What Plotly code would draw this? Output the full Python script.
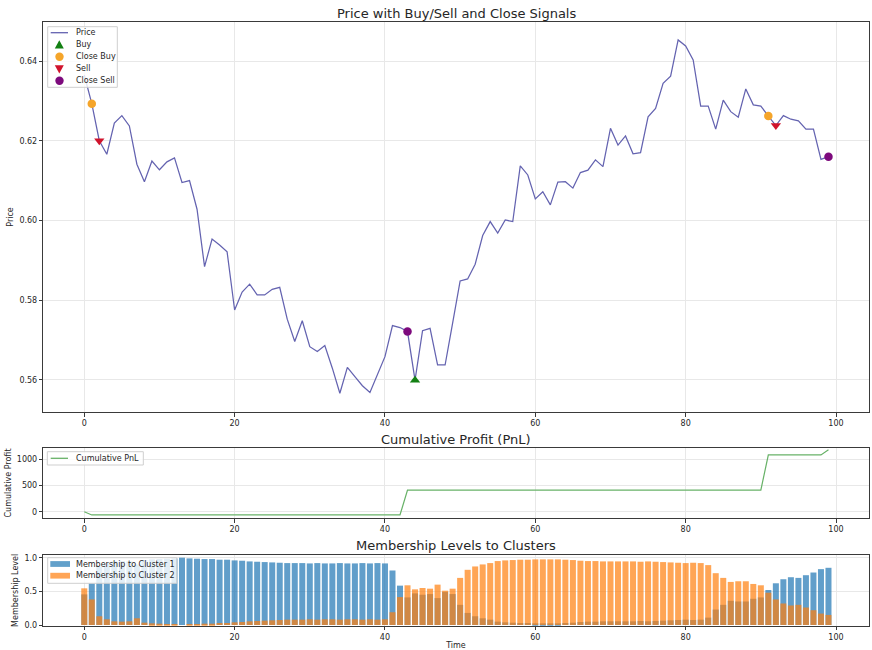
import plotly.graph_objects as go

W, H = 872, 650

# ---------------- data ----------------
time = list(range(100))

price = [
    0.6365, 0.6293, 0.6200, 0.6166, 0.6244, 0.6263, 0.6237, 0.6141, 0.6097, 0.6149,
    0.6127, 0.6147, 0.6157, 0.6095, 0.6100, 0.6028, 0.5884, 0.5953, 0.5938, 0.5921,
    0.5775, 0.5820, 0.5840, 0.5813, 0.5813, 0.5827, 0.5832, 0.5752, 0.5696, 0.5748,
    0.5683, 0.5671, 0.5686, 0.5629, 0.5566, 0.5631, 0.5608, 0.5585, 0.5568, 0.5612,
    0.5658, 0.5736, 0.5731, 0.5721, 0.5599, 0.5723, 0.5729, 0.5637, 0.5637, 0.5742,
    0.5848, 0.5853, 0.5890, 0.5962, 0.5997, 0.5968, 0.6001, 0.5997, 0.6137, 0.6114,
    0.6054, 0.6072, 0.6039, 0.6096, 0.6097, 0.6081, 0.6120, 0.6126, 0.6152, 0.6135,
    0.6231, 0.6189, 0.6212, 0.6167, 0.6170, 0.6260, 0.6281, 0.6344, 0.6362, 0.6453,
    0.6438, 0.6403, 0.6287, 0.6287, 0.6229, 0.6302, 0.6273, 0.6259, 0.6330, 0.6290,
    0.6287, 0.6262, 0.6238, 0.6263, 0.6254, 0.6250, 0.6229, 0.6229, 0.6153, 0.6160,
]

buy_idx = [44]
close_buy_idx = [1, 91]
sell_idx = [2, 92]
close_sell_idx = [43, 99]

pnl = [
    0, -62, -62, -62, -62, -62, -62, -62, -62, -62,
    -62, -62, -62, -62, -62, -62, -62, -62, -62, -62,
    -62, -62, -62, -62, -62, -62, -62, -62, -62, -62,
    -62, -62, -62, -62, -62, -62, -62, -62, -62, -62,
    -62, -62, -62, 412, 412, 412, 412, 412, 412, 412,
    412, 412, 412, 412, 412, 412, 412, 412, 412, 412,
    412, 412, 412, 412, 412, 412, 412, 412, 412, 412,
    412, 412, 412, 412, 412, 412, 412, 412, 412, 412,
    412, 412, 412, 412, 412, 412, 412, 412, 412, 412,
    412, 1083, 1083, 1083, 1083, 1083, 1083, 1083, 1083, 1180,
]

cluster1 = [
    0.455, 0.62, 0.87, 0.915, 0.945, 0.95, 0.945, 0.90, 0.965, 0.975,
    0.98, 0.985, 0.99, 1.0, 0.99, 0.985, 0.98, 0.98, 0.97, 0.97,
    0.96, 0.955, 0.945, 0.94, 0.935, 0.93, 0.925, 0.92, 0.92, 0.92,
    0.915, 0.92, 0.915, 0.915, 0.92, 0.915, 0.915, 0.92, 0.915, 0.92,
    0.915, 0.81, 0.585, 0.41, 0.47, 0.45, 0.46, 0.40, 0.49, 0.46,
    0.30, 0.18, 0.13, 0.10, 0.08, 0.05, 0.04, 0.035, 0.03, 0.03,
    0.025, 0.025, 0.025, 0.025, 0.03, 0.035, 0.045, 0.05, 0.05, 0.055,
    0.055, 0.055, 0.055, 0.055, 0.06, 0.055, 0.06, 0.065, 0.07, 0.075,
    0.08, 0.075, 0.08, 0.11, 0.23, 0.30, 0.36, 0.35, 0.35, 0.39,
    0.41, 0.52, 0.62, 0.68, 0.71, 0.70, 0.74, 0.78, 0.83, 0.85,
]

cluster2 = [
    0.545, 0.38, 0.13, 0.085, 0.055, 0.05, 0.055, 0.10, 0.035, 0.025,
    0.02, 0.015, 0.01, 0.0, 0.01, 0.015, 0.02, 0.02, 0.03, 0.03,
    0.04, 0.045, 0.055, 0.06, 0.065, 0.07, 0.075, 0.08, 0.08, 0.08,
    0.085, 0.08, 0.085, 0.085, 0.08, 0.085, 0.085, 0.08, 0.085, 0.08,
    0.085, 0.19, 0.415, 0.59, 0.53, 0.55, 0.54, 0.60, 0.51, 0.54,
    0.70, 0.82, 0.87, 0.90, 0.92, 0.95, 0.96, 0.965, 0.97, 0.97,
    0.975, 0.975, 0.975, 0.975, 0.97, 0.965, 0.955, 0.95, 0.95, 0.945,
    0.945, 0.945, 0.945, 0.945, 0.94, 0.945, 0.94, 0.935, 0.93, 0.925,
    0.92, 0.925, 0.92, 0.89, 0.77, 0.70, 0.64, 0.65, 0.65, 0.61,
    0.59, 0.48, 0.38, 0.32, 0.29, 0.30, 0.26, 0.22, 0.17, 0.15,
]

x_ticks = [0, 20, 40, 60, 80, 100]
price_ticks = [0.56, 0.58, 0.60, 0.62, 0.64]
pnl_ticks = [0, 500, 1000]
member_ticks = [0.0, 0.5, 1.0]

titles = ["Price with Buy/Sell and Close Signals", "Cumulative Profit (PnL)", "Membership Levels to Clusters"]

# ---------------- styling ----------------
FONT = "DejaVu Sans"
TXT = "#262626"
PRICE_C = "#6463b0"
PNL_C = "#68b268"
BUY_C = "#138013"
CB_C = "#f5a52a"
SELL_C = "#d0132c"
CS_C = "#7d0a7d"
BLUE = "#1f77b4"
ORANGE = "#ff7f0e"


def px(x):
    return x / W


def py(y):
    return 1 - y / H


XD = [px(43.3), px(868.7)]
XR = [-5.45, 104.35]

fig = go.Figure()

# Price
fig.add_trace(go.Scatter(x=time, y=price, mode="lines", name="Price",
                         line=dict(color=PRICE_C, width=1.25), xaxis="x", yaxis="y"))


def sig(idx, name, sym, col, size):
    fig.add_trace(go.Scatter(x=[time[i] for i in idx], y=[price[i] for i in idx], mode="markers",
                             name=name, marker=dict(symbol=sym, color=col, size=size, line=dict(width=0)),
                             xaxis="x", yaxis="y"))


sig(buy_idx, "Buy", "triangle-up", BUY_C, 9)
sig(close_buy_idx, "Close Buy", "circle", CB_C, 8.5)
sig(sell_idx, "Sell", "triangle-down", SELL_C, 9)
sig(close_sell_idx, "Close Sell", "circle", CS_C, 8.5)

# PnL
fig.add_trace(go.Scatter(x=time, y=pnl, mode="lines", name="Cumulative PnL",
                         line=dict(color=PNL_C, width=1.25), xaxis="x2", yaxis="y2"))

# Membership
fig.add_trace(go.Bar(x=time, y=cluster1, name="Membership to Cluster 1", marker=dict(color=BLUE, line=dict(width=0)),
                     opacity=0.7, width=0.8, xaxis="x3", yaxis="y3"))
fig.add_trace(go.Bar(x=time, y=cluster2, name="Membership to Cluster 2", marker=dict(color=ORANGE, line=dict(width=0)),
                     opacity=0.7, width=0.8, xaxis="x3", yaxis="y3"))

axis_common = dict(showline=True, mirror=True, linecolor="#3a3a3a", linewidth=1,
                   ticks="outside", ticklen=3.5, tickwidth=1, tickcolor="#3a3a3a",
                   showgrid=True, gridcolor="#e8e8e8", gridwidth=1, zeroline=False,
                   tickfont=dict(family=FONT, size=8, color=TXT), automargin=False)

xa = dict(axis_common, domain=XD, range=XR, tickvals=x_ticks)

fig.update_layout(
    width=W, height=H,
    margin=dict(l=0, r=0, t=0, b=0),
    paper_bgcolor="white", plot_bgcolor="white",
    showlegend=False,
    barmode="overlay",
    font=dict(family=FONT, size=8, color=TXT),
    xaxis=dict(xa, anchor="y"),
    yaxis=dict(axis_common, domain=[py(412), py(22)], range=[0.5519, 0.6498], tickvals=price_ticks,
               tickformat=".2f", anchor="x",
               title=dict(text="Price", font=dict(family=FONT, size=8, color=TXT), standoff=4)),
    xaxis2=dict(xa, anchor="y2"),
    yaxis2=dict(axis_common, domain=[py(518.3), py(447.7)], range=[-126, 1221], tickvals=pnl_ticks,
                anchor="x2",
                title=dict(text="Cumulative Profit", font=dict(family=FONT, size=8, color=TXT), standoff=4)),
    xaxis3=dict(xa, anchor="y3",
                title=dict(text="Time", font=dict(family=FONT, size=8, color=TXT), standoff=2)),
    yaxis3=dict(axis_common, domain=[py(625.7), py(555)], range=[-0.01, 1.04], tickvals=member_ticks,
                tickformat=".1f", anchor="x3",
                title=dict(text="Membership Level", font=dict(family=FONT, size=8, color=TXT), standoff=4)),
)

# titles
for t, yy in zip(titles, [13.3, 439, 545]):
    fig.add_annotation(text=t, x=px(456), y=py(yy), xref="paper", yref="paper", showarrow=False,
                       xanchor="center", yanchor="middle", font=dict(family=FONT, size=13, color=TXT))

# ---------------- legends (drawn as matplotlib-like boxes) ----------------
shapes = []
BOX_LINE = dict(color="#cfcfcf", width=1)
BOX_FILL = "rgba(255,255,255,0.82)"


def box(x0, y0, x1, y1):
    shapes.append(dict(type="rect", xref="paper", yref="paper", x0=px(x0), x1=px(x1), y0=py(y1), y1=py(y0),
                       line=BOX_LINE, fillcolor=BOX_FILL, layer="above"))


def label(text, x, y):
    fig.add_annotation(text=text, x=px(x), y=py(y), xref="paper", yref="paper", showarrow=False,
                       xanchor="left", yanchor="middle", font=dict(family=FONT, size=8, color=TXT))


def hline(x0, x1, y, col):
    shapes.append(dict(type="line", xref="paper", yref="paper", x0=px(x0), x1=px(x1), y0=py(y), y1=py(y),
                       line=dict(color=col, width=1.3), layer="above"))


def tri(cx, cy, col, up=True):
    s = 4.5
    if up:
        pts = [(cx, cy - s), (cx - s, cy + s * 0.8), (cx + s, cy + s * 0.8)]
    else:
        pts = [(cx, cy + s), (cx - s, cy - s * 0.8), (cx + s, cy - s * 0.8)]
    path = "M " + " L ".join(f"{px(a):.5f},{py(b):.5f}" for a, b in pts) + " Z"
    shapes.append(dict(type="path", xref="paper", yref="paper", path=path, fillcolor=col,
                       line=dict(width=0), layer="above"))


def dot(cx, cy, col, r=4.2):
    shapes.append(dict(type="circle", xref="paper", yref="paper", x0=px(cx - r), x1=px(cx + r),
                       y0=py(cy + r), y1=py(cy - r), fillcolor=col, line=dict(width=0), layer="above"))


def patch(x0, x1, yc, col):
    shapes.append(dict(type="rect", xref="paper", yref="paper", x0=px(x0), x1=px(x1),
                       y0=py(yc + 2.9), y1=py(yc - 2.9), fillcolor=col, opacity=0.7,
                       line=dict(width=0), layer="above"))


# price legend
box(47.7, 26.7, 117.3, 87.3)
ys = [32.7, 44.8, 56.8, 68.9, 80.8]
hline(50.7, 68, ys[0], PRICE_C)
tri(59.3, ys[1], BUY_C, up=True)
dot(59.5, ys[2], CB_C)
tri(59.3, ys[3], SELL_C, up=False)
dot(59.5, ys[4], CS_C)
for txt, yy in zip(["Price", "Buy", "Close Buy", "Sell", "Close Sell"], ys):
    label(txt, 73.5, yy)

# pnl legend
box(47.3, 451.7, 143.3, 465)
hline(50.7, 68, 458.3, PNL_C)
label("Cumulative PnL", 73.5, 458.3)

# membership legend
box(47.7, 557.7, 176.7, 583.3)
patch(50.3, 70, 564, BLUE)
patch(50.3, 70, 575.7, ORANGE)
label("Membership to Cluster 1", 73.5, 564)
label("Membership to Cluster 2", 73.5, 575.7)

fig.update_layout(shapes=shapes)

fig.write_html("out.html")
